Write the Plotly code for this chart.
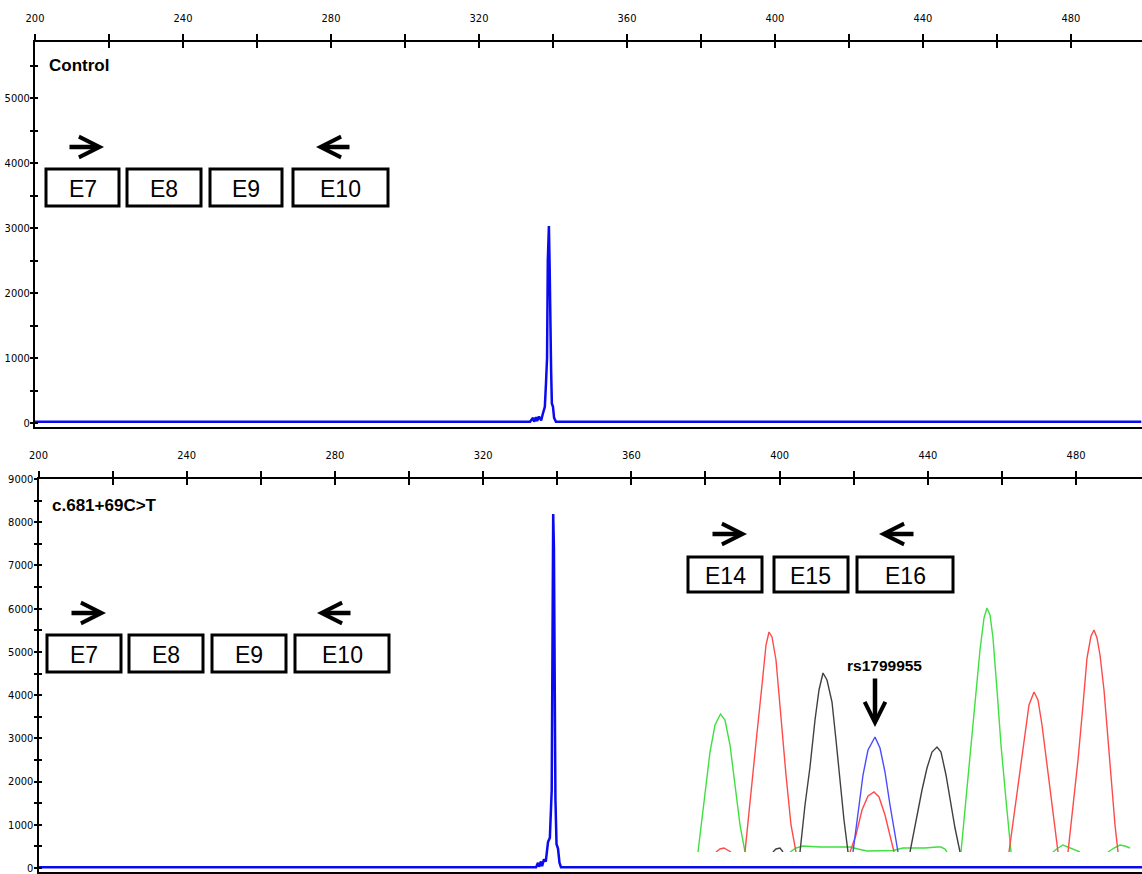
import plotly.graph_objects as go

W, H = 1142, 874

# ---------------- data ----------------
# Fragment analysis traces: fragment size (bp) and signal (RFU)
control_size = [200, 333.8, 334.6, 334.9, 335.4, 335.7, 336.2, 336.8, 337.3, 337.8, 338.1, 338.4,
                338.6, 338.9, 339.1, 339.3, 339.5, 339.7, 340.0, 340.3, 340.8, 499]
control_rfu = [20, 20, 80, 20, 90, 30, 100, 40, 150, 250, 600, 1000,
               2500, 3030, 2400, 1000, 800, 300, 250, 80, 20, 20]

patient_size = [200, 334.3, 334.8, 335.1, 335.6, 335.9, 336.4, 336.9, 337.5, 338.0, 338.5, 338.9,
                339.1, 339.3, 339.5, 339.8, 340.2, 340.6, 341.0, 499]
patient_rfu = [20, 20, 120, 30, 150, 40, 200, 150, 600, 700, 1800, 8190,
               7400, 1800, 1600, 550, 450, 120, 20, 20]

# Sanger chromatogram inset (scan point, signal); None separates peaks
green_scan = [16, 28, 40, 50, 61, 70, 80, 90, 100, 110, None,
              200, 212, 226, 260, 292, 320, 336, 354, 406, 426, 446, 470, 494, 502, 510, 514, None,
              542, 552, 562, 572, 580, 588, 594, 600, 606, 614, 622, 632, 642, None,
              726, 736, 746, 756, 768, 780, None,
              836, 848, 860, 870, 880]
green_sig = [0, 520, 1000, 1270, 1380, 1320, 1070, 670, 270, 0, None,
             0, 40, 60, 50, 50, 50, 30, 10, 15, 40, 40, 40, 50, 50, 30, 0, None,
             0, 520, 1040, 1570, 2020, 2340, 2440, 2370, 2140, 1620, 1070, 520, 0, None,
             0, 40, 70, 50, 20, 0, None,
             0, 40, 70, 60, 40]

red_scan = [52, 60, 68, 76, 82, None,
            110, 122, 134, 144, 152, 158, 164, 172, 182, 192, 202, 212, None,
            320, 332, 344, 356, 368, 378, 390, 400, 408, None,
            638, 648, 658, 668, 678, 688, 696, 704, 712, 720, 728, 736, None,
            756, 766, 776, 786, 794, 802, 808, 814, 820, 828, 836, 844, 850, 856]
red_sig = [0, 30, 40, 20, 0, None,
           0, 620, 1190, 1670, 2070, 2200, 2150, 1920, 1320, 770, 270, 0, None,
           0, 170, 420, 560, 600, 550, 370, 170, 0, None,
           0, 370, 740, 1120, 1470, 1600, 1520, 1270, 940, 600, 270, 0, None,
           0, 440, 920, 1470, 1940, 2160, 2220, 2140, 1970, 1620, 1120, 620, 270, 0]

black_scan = [166, 172, 180, 186, None,
              220, 230, 240, 250, 258, 266, 274, 284, 292, 300, 308, 316, None,
              440, 452, 464, 474, 484, 494, 502, 512, 522, 530, 540]
black_sig = [0, 30, 40, 0, None,
             0, 470, 850, 1320, 1620, 1790, 1720, 1500, 1120, 690, 320, 0, None,
             0, 320, 620, 840, 1000, 1050, 1000, 770, 470, 240, 0]

blue_scan = [326, 336, 346, 356, 370, 380, 390, 400, 408, 416]
blue_sig = [0, 370, 770, 1020, 1150, 1040, 800, 470, 220, 0]

# Axis ticks
x_major = [200, 240, 280, 320, 360, 400, 440, 480]
x_labels = ["200", "240", "280", "320", "360", "400", "440", "480"]
x_minor = [220, 260, 300, 340, 380, 420, 460, 500]
top_y_major = [0, 1000, 2000, 3000, 4000, 5000]
top_y_labels = ["0", "1000", "2000", "3000", "4000", "5000"]
top_y_minor = [500, 1500, 2500, 3500, 4500, 5500]
bot_y_major = [0, 1000, 2000, 3000, 4000, 5000, 6000, 7000, 8000, 9000]
bot_y_labels = ["0", "1000", "2000", "3000", "4000", "5000", "6000", "7000", "8000", "9000"]
bot_y_minor = [500, 1500, 2500, 3500, 4500, 5500, 6500, 7500, 8500]

panel_titles = ["Control", "c.681+69C>T"]
exons_a = ["E7", "E8", "E9", "E10"]
exons_b = ["E14", "E15", "E16"]
snp_label = "rs1799955"


# ---------------- layout helpers ----------------
def fx(px):
    return px / W


def fy(py):
    return 1 - py / H


narrow = "Liberation Sans Narrow, Arial Narrow, DejaVu Sans Condensed, Roboto Condensed, Liberation Sans, sans-serif"
arial = "Liberation Sans, Arial, sans-serif"
tick_font = dict(family=narrow, size=11, color="black")

fig = go.Figure()
fig.add_trace(go.Scatter(x=control_size, y=control_rfu, mode="lines",
                         line=dict(color="#0a0aee", width=2.5),
                         xaxis="x", yaxis="y", showlegend=False, hoverinfo="skip"))
fig.add_trace(go.Scatter(x=patient_size, y=patient_rfu, mode="lines",
                         line=dict(color="#0a0aee", width=2.5),
                         xaxis="x2", yaxis="y2", showlegend=False, hoverinfo="skip"))
for xs, ys, col in [(green_scan, green_sig, "#3fe03f"),
                    (red_scan, red_sig, "#ff4a4a"),
                    (black_scan, black_sig, "#404040"),
                    (blue_scan, blue_sig, "#4a4aff")]:
    fig.add_trace(go.Scatter(x=xs, y=ys, mode="lines", connectgaps=False,
                             line=dict(color=col, width=1.4),
                             xaxis="x3", yaxis="y3", showlegend=False, hoverinfo="skip"))
# empty traces so the tick-overlay axes get drawn
for xa, ya in [("x4", "y"), ("x", "y4"), ("x5", "y2"), ("x2", "y5")]:
    fig.add_trace(go.Scatter(x=[None], y=[None], xaxis=xa, yaxis=ya,
                             showlegend=False, hoverinfo="skip"))


def xaxis_spec(left_px, rng, anchor):
    return dict(domain=[fx(left_px), 1], range=rng, anchor=anchor, side="top",
                showline=True, linecolor="black", linewidth=2, mirror=True,
                ticks="outside", ticklen=6, tickwidth=1.5, tickcolor="black",
                tickmode="array", tickvals=x_major, ticktext=x_labels,
                minor=dict(tickmode="array", tickvals=x_minor, ticks="outside",
                           ticklen=6, tickwidth=1.5, tickcolor="black", showgrid=False),
                showgrid=False, zeroline=False, tickfont=tick_font,
                ticklabelstandoff=8, ticklabeloverflow="allow",
                fixedrange=True, automargin=False)


def xaxis_overlay(over, rng, anchor):
    return dict(overlaying=over, range=rng, anchor=anchor, side="top",
                showline=False, ticks="inside", ticklen=6, tickwidth=1.5, tickcolor="black",
                tickmode="array", tickvals=x_major, showticklabels=False,
                minor=dict(tickmode="array", tickvals=x_minor, ticks="inside",
                           ticklen=6, tickwidth=1.5, tickcolor="black", showgrid=False),
                showgrid=False, zeroline=False, fixedrange=True, automargin=False)


def yaxis_spec(dom, rng, anchor, vals, labels, minors):
    return dict(domain=dom, range=rng, anchor=anchor,
                showline=True, linecolor="black", linewidth=2,
                ticks="outside", ticklen=3, tickwidth=2, tickcolor="black",
                tickmode="array", tickvals=vals, ticktext=labels,
                minor=dict(tickmode="array", tickvals=minors, ticks="outside",
                           ticklen=3, tickwidth=2, tickcolor="black", showgrid=False),
                showgrid=False, zeroline=False, tickfont=tick_font,
                ticklabelstandoff=-2, ticklabeloverflow="allow",
                fixedrange=True, automargin=False)


def yaxis_overlay(over, rng, anchor, vals, minors):
    return dict(overlaying=over, range=rng, anchor=anchor,
                showline=False, ticks="inside", ticklen=3, tickwidth=2, tickcolor="black",
                tickmode="array", tickvals=vals, showticklabels=False,
                minor=dict(tickmode="array", tickvals=minors, ticks="inside",
                           ticklen=3, tickwidth=2, tickcolor="black", showgrid=False),
                showgrid=False, zeroline=False, fixedrange=True, automargin=False)


shapes = []
annotations = []

# exon boxes: (label, left, top, right, bottom) in pixels
box_specs = [
    (exons_a[0], 46, 169, 119, 206), (exons_a[1], 127, 169, 201, 206),
    (exons_a[2], 210, 169, 282, 206), (exons_a[3], 293, 169, 388, 206),
    (exons_a[0], 47, 635, 121, 672), (exons_a[1], 129, 635, 203, 672),
    (exons_a[2], 212, 635, 286, 672), (exons_a[3], 295, 635, 389, 672),
    (exons_b[0], 688, 557, 762, 592), (exons_b[1], 774, 557, 848, 592),
    (exons_b[2], 857, 557, 953, 592),
]
for lab, l, t, r, b in box_specs:
    shapes.append(dict(type="rect", xref="paper", yref="paper",
                       x0=fx(l), x1=fx(r), y0=fy(b), y1=fy(t),
                       line=dict(color="black", width=3), fillcolor="white", layer="above"))
    annotations.append(dict(xref="paper", yref="paper", x=fx((l + r) / 2), y=fy((t + b) / 2 + 1),
                            text=lab, showarrow=False, xanchor="center", yanchor="middle",
                            font=dict(family=arial, size=23, color="black")))

# primer / position arrows: (tail_x, tail_y, head_x, head_y) in pixels
arrow_specs = [
    (68, 147, 104, 147), (351, 147, 316, 147),
    (70, 613, 106, 613), (352, 613, 317, 613),
    (711, 534, 747, 534), (915, 534, 879, 534),
    (875, 677, 875, 727),
]
for tx, ty, hx, hy in arrow_specs:
    annotations.append(dict(xref="paper", yref="paper", x=fx(hx), y=fy(hy),
                            ax=tx - hx, ay=ty - hy, text="", showarrow=True,
                            arrowhead=5, arrowsize=0.9, arrowwidth=4.5, arrowcolor="black",
                            standoff=0, startstandoff=0))

annotations.append(dict(xref="paper", yref="paper", x=fx(47), y=fy(66), text="<b>%s</b>" % panel_titles[0],
                        showarrow=False, xanchor="left", yanchor="middle",
                        font=dict(family=arial, size=17, color="black")))
annotations.append(dict(xref="paper", yref="paper", x=fx(50), y=fy(505), text="<b>%s</b>" % panel_titles[1],
                        showarrow=False, xanchor="left", yanchor="middle",
                        font=dict(family=arial, size=17, color="black")))
annotations.append(dict(xref="paper", yref="paper", x=fx(884), y=fy(665), text="<b>%s</b>" % snp_label,
                        showarrow=False, xanchor="center", yanchor="middle",
                        font=dict(family=arial, size=15.5, color="black")))

xr_top = [200, 499.2]
xr_bot = [200, 497.8]
yr_top = [-61.5, 5861.5]
yr_bot = [-92.5, 9000]

fig.update_layout(
    width=W, height=H,
    margin=dict(l=0, r=0, t=0, b=0, autoexpand=False),
    paper_bgcolor="white", plot_bgcolor="rgba(0,0,0,0)",
    showlegend=False,
    xaxis=xaxis_spec(35, xr_top, "y"),
    yaxis=yaxis_spec([fy(427), fy(42)], yr_top, "x", top_y_major, top_y_labels, top_y_minor),
    xaxis2=xaxis_spec(38.5, xr_bot, "y2"),
    yaxis2=yaxis_spec([fy(872), fy(479)], yr_bot, "x2", bot_y_major, bot_y_labels, bot_y_minor),
    xaxis3=dict(domain=[fx(690), fx(1135)], range=[0, 890], anchor="y3", visible=False,
                fixedrange=True, automargin=False),
    yaxis3=dict(domain=[fy(852), fy(600)], range=[0, 2520], anchor="x3", visible=False,
                fixedrange=True, automargin=False),
    xaxis4=xaxis_overlay("x", xr_top, "y"),
    yaxis4=yaxis_overlay("y", yr_top, "x", top_y_major, top_y_minor),
    xaxis5=xaxis_overlay("x2", xr_bot, "y2"),
    yaxis5=yaxis_overlay("y2", yr_bot, "x2", bot_y_major, bot_y_minor),
    shapes=shapes,
    annotations=annotations,
)

fig.write_html("out.html", config={"displayModeBar": False},
               post_script="document.body.style.margin='0px';document.body.style.overflow='hidden';")
